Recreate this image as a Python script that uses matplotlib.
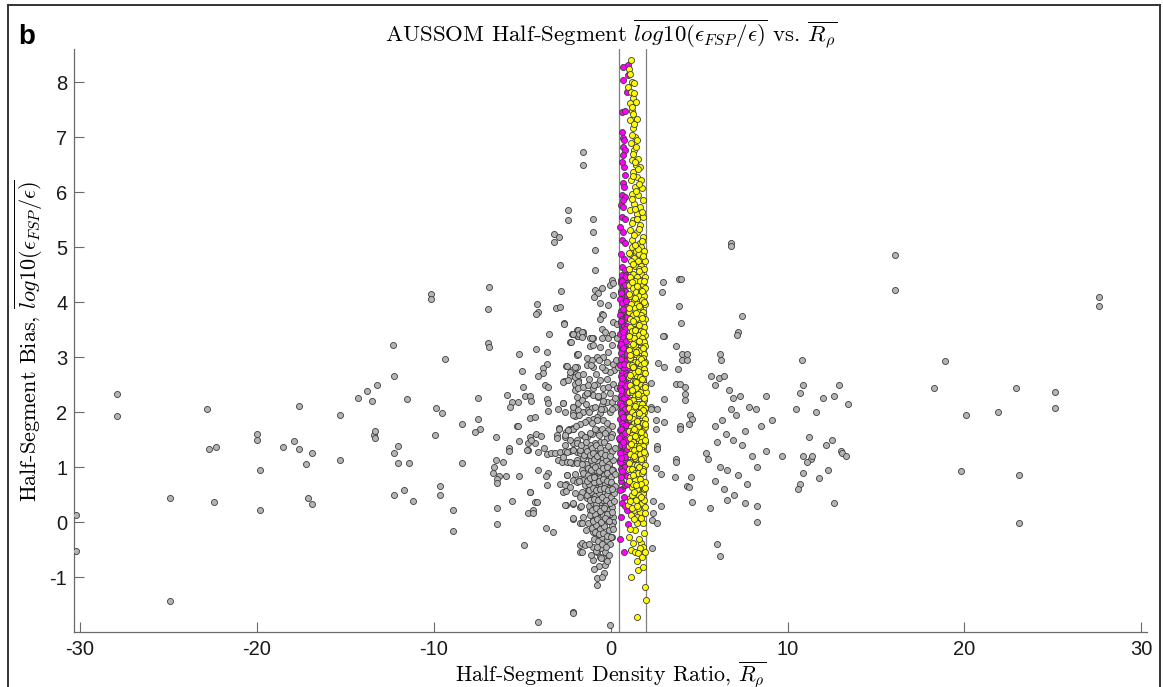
import matplotlib
matplotlib.use("Agg")
import matplotlib.pyplot as plt
from matplotlib.lines import Line2D

# ---------------- data ----------------
# gray: all half-segments outside the highlighted range
gray_x_outer = [-30.2, -30.2, -27.9, -27.9, -24.9, -24.9, -22.8, -22.7, -22.3, -22.4,
                -20.0, -20.0, -19.8, -19.8, -18.5, -17.9, -17.6, -17.6, -17.2, -17.1,
                -16.9, -16.9, -15.3, -15.3, -14.3, -13.8, -13.5, -13.4, -13.3, -13.3,
                -13.2, -12.3, -12.25, -12.25, -12.0, -12.0, -11.4, -12.25, -11.67, -11.53,
                -11.18, -10.16, -10.16, -9.89, -9.54, -9.91, -9.65, -9.65, -9.37, -8.9,
                -8.9, -8.39, -8.39, -7.52, -7.52, -7.39, -7.65, -6.88, -6.92, -6.92,
                -6.88, -5.86, -5.2, -5.0,
                16.1, 16.1, 18.3, 18.9, 19.8, 20.1, 21.9, 22.9, 23.1, 23.1,
                25.1, 25.1, 27.6, 27.6]
gray_y_outer = [0.13, -0.53, 2.33, 1.93, 0.43, -1.43, 2.05, 1.33, 1.37, 0.37,
                1.60, 1.50, 0.95, 0.22, 1.37, 1.47, 2.12, 1.33, 1.05, 0.43,
                0.32, 1.25, 1.95, 1.12, 2.25, 2.38, 2.20, 1.58, 1.65, 1.52,
                2.50, 3.22, 2.65, 1.25, 1.38, 1.07, 1.08, 0.50, 0.59, 2.23,
                0.38, 4.14, 4.05, 2.08, 1.98, 1.59, 0.66, 0.49, 2.97, 0.21,
                -0.16, 1.08, 1.79, 2.26, 1.87, 1.70, 1.64, 4.27, 3.87, 3.25,
                3.18, 2.32, 3.05, 2.75,
                4.85, 4.22, 2.43, 2.93, 0.93, 1.95, 2.00, 2.43, 0.85, -0.02,
                2.37, 2.07, 4.10, 3.93]

gray_x_left = [-2.41, -2.41, -3.22, -2.92, -3.22, -2.85, -2.83, -3.11, -2.85, -4.17,
               -4.13, -4.24, -2.64, -1.89, -1.90, -2.17, -3.50, -2.28, -4.22, -3.58,
               -1.89, -1.89, -3.58, -3.84, -3.84, -4.09, -2.53, -2.17, -1.90, -1.96,
               -2.28, -2.64, -1.83, -3.73, -3.56, -4.96, -1.96, -2.04, -4.85, -4.55,
               -4.51, -5.56, -5.24, -5.68, -3.62, -3.54, -2.71, -2.13, -1.87, -3.54,
               -2.96, -2.10, -1.80, -2.00, -4.56, -4.26, -5.30, -2.92, -2.35, -2.11,
               -5.24, -6.47, -5.77, -5.77, -5.17, -4.69, -4.69, -6.47, -6.11, -6.62,
               -6.64, -6.30, -5.90, -6.43, -6.43, -5.17, -6.41, -6.43, -5.60, -4.54,
               -4.26, -4.15, -4.69, -4.37, -4.37, -4.88, -3.67, -3.24, -4.11, -2.11,
               -2.92, -2.54, -2.34, -2.11, -3.05, -2.58, -1.92, -2.11, -2.58, -3.05,
               -4.24, -3.94, -4.26, -4.56, -4.52, -4.71, -4.09, -3.77, -3.62, -3.39,
               -3.15, -2.86, -2.58, -2.30, -2.11, -1.92, -1.73, -2.96, -2.77, -2.49,
               -2.21, -1.92, -4.09, -3.52, -3.67, -3.62, -2.86, -2.53, -2.71, -2.54,
               -2.53, -2.11, -2.11, -2.49, -2.11, -1.73, -4.56, -1.73, -1.73, -1.73,
               -1.73]
gray_y_left = [5.67, 5.49, 5.24, 5.19, 5.09, 4.68, 4.21, 3.89, 3.91, 3.96,
               3.82, 3.78, 3.62, 3.49, 3.38, 3.42, 3.42, 3.27, 3.14, 3.10,
               3.06, 3.03, 2.88, 2.81, 2.71, 2.65, 2.83, 2.76, 2.82, 2.69,
               2.65, 2.56, 2.58, 2.50, 2.45, 2.46, 2.43, 2.40, 2.29, 2.29,
               2.21, 2.19, 2.18, 2.10, 2.24, 2.16, 2.16, 2.10, 2.16, 2.02,
               2.05, 2.00, 1.98, 1.93, 1.90, 1.91, 1.75, 1.71, 1.69, 1.71,
               1.75, 1.55, 1.35, 1.30, 1.48, 1.43, 1.31, 1.12, 1.10, 1.01,
               0.89, 0.84, 0.84, 0.79, 0.71, 0.84, 0.25, -0.04, 0.39, 0.55,
               0.36, 0.36, 0.16, 0.22, 0.17, -0.41, -0.11, -0.18, -1.81, -1.64,
               1.70, 1.64, 1.68, 1.70, 1.58, 1.55, 1.49, 1.44, 1.40, 1.52,
               1.61, 1.57, 1.43, 1.55, 1.49, 1.31, 1.28, 1.34, 1.24, 1.25,
               1.26, 1.28, 1.30, 1.30, 1.31, 1.28, 1.25, 1.13, 1.10, 1.10,
               1.07, 1.13, 0.95, 0.90, 0.84, 0.68, 0.69, 0.69, 0.55, 0.57,
               0.31, 0.32, 0.06, 0.85, 0.76, 0.79, 0.55, 0.28, -0.02, -0.42,
               -0.54]

gray_x_core = [-1.57, -1.57, -1.02, -1.02, -0.89, -0.89, 0.05, -0.04, 0.15, -0.89,
               -0.70, -0.51, -0.93, 0.11, -0.17, -0.60, -2.64, -0.51, -0.42, -0.60,
               0.15, 0.34, -2.11, -1.83, -1.58, -1.83, -1.58, 0.05, -0.51, -1.17,
               -0.98, -0.13,
               -2.15, -1.79, -1.60, -1.64, -2.24, -1.17, -0.98, -1.06, -0.51, -0.32,
               0.05, 0.34, 0.09, -0.60, -1.87, -1.36, -1.08, -0.79, -0.42, -0.23,
               0.15, 0.19, 0.43, -0.04, -0.32, -0.51, -0.98, -1.36, -2.02, -2.49,
               -2.30, -2.02, -1.83, -2.68, -2.40, -2.02, -1.83, -1.55, -1.26, -0.98,
               -0.79, -0.60, -0.42, -0.13, 0.15, 0.34, -0.04, -0.42, -0.70, -0.98,
               -1.26, -1.45, -1.64, -1.92, -2.11, -2.68, -2.58, -2.11, -1.83, -1.55,
               -1.26, -1.08, -0.89, -0.51, -0.23, 0.05, 0.24, -0.04, -0.60, -0.79,
               -0.98, -1.26, -1.45, -1.74, -2.11, -2.40, -2.58, -2.30, -1.92, -1.64,
               -1.36, -1.08, -0.79, -0.51, -0.13, 0.05, -0.23, -0.60, -0.89, -1.17,
               -1.45, -1.74, -2.11, -2.49, -2.68, -2.30, -1.92, -1.55, -1.17, -0.89,
               -0.60, -0.32, -0.42, -0.70, -0.98, -1.26, -1.64, -2.02, -2.49, -2.58,
               -2.30, -1.92, -1.55, -1.17, -0.89, -0.60, -0.32, -0.04, 0.15, -0.13,
               -0.42, -0.70, -0.98, -1.26, -1.64, -2.02, -1.74, -1.36, -0.98, -0.70,
               -0.42, -0.04, 0.05, -0.23, -0.60, -0.98, -1.17, -0.79, -0.42, -0.04,
               -0.60, -0.98, -1.26, -0.89, -0.51, -0.23, 0.15, -0.70, -0.98, -0.42,
               -1.64, -2.11, -2.58, -2.11, -1.64, -1.45, -1.64, -0.98, -0.79, -0.60,
               -0.98, -0.42, -0.32, 0.05, -0.79, -2.11, -0.04,
               -1.50, -1.32, -1.05, -0.85, -0.62, -0.40, -0.15, 0.05,
               -1.40, -1.12, -0.92, -0.72, -0.50, -0.28, -0.08, 0.12,
               -1.55, -1.30, -1.05, -0.82, -0.58, -0.35, -0.18, 0.02,
               -1.45, -1.20, -0.95, -0.75, -0.52, -0.30, -0.10, 0.10,
               -1.35, -1.10, -0.88, -0.65, -0.45, -0.22, 0.00, 0.18,
               -1.25, -1.02, -0.80, -0.55, -0.32, -0.12, 0.08,
               -1.15, -0.90, -0.68, -0.45, -0.25, -0.05, 0.15,
               -1.05, -0.80, -0.58, -0.35, -0.12, 0.05,
               -0.95, -0.70, -0.48, -0.22, -0.02,
               -0.85, -0.55, -0.30, -0.65, -0.40, -0.20,
               -1.70, -1.45, -1.15, -0.90, -0.65, -0.30, 0.00,
               -1.80, -1.40, -0.70, -0.35, 0.25, -1.20, -0.80, -0.20, 0.30,
               -1.95, -1.70, -1.60, -1.80, -1.70, -1.55, -1.40, -1.25, -1.10, -0.95,
               -0.75, -0.50,
               -1.38, -1.18, -0.98, -0.78, -0.55, -0.32, -0.05, 0.22,
               -1.30, -1.10, -0.88, -0.65, -0.42, -0.20, 0.05, 0.25,
               -1.35, -1.15, -0.92, -0.68, -0.45, -0.22, 0.00, 0.22,
               -1.25, -1.02, -0.80, -0.58, -0.38, -0.15, 0.08,
               -1.15, -0.95, -0.72, -0.50, -0.28, -0.05, 0.20,
               -1.05, -0.85, -0.62, -0.40, -0.18, 0.05,
               -0.98, -0.75, -0.52, -0.30, -0.08, 0.12,
               -0.88, -0.65, -0.42, -0.20, 0.02,
               -0.75, -0.48, -0.25, -0.10, -0.55,
               -1.85, -1.55, -1.10, -0.65, -0.15, -1.35, -0.95, -0.45, -1.05, -0.75,
               -0.45, -0.20, 0.10, -1.25, -0.55, 0.10]
gray_y_core = [6.73, 6.50, 5.52, 5.28, 4.95, 4.59, 4.40, 4.31, 4.35, 4.22,
               4.16, 4.25, 4.10, 4.13, 3.95, 3.98, 3.61, 3.79, 3.76, 3.70,
               3.64, 3.61, 3.43, 3.49, 3.46, 3.39, 3.40, 3.43, 3.52, 3.34,
               3.34, 3.34,
               3.43, 3.43, 3.46, 3.37, 3.28, 3.21, 3.22, 3.34, 3.34, 3.46,
               3.42, 3.34, 3.22, 3.19, 3.05, 2.98, 2.95, 3.01, 3.01, 2.92,
               2.88, 2.76, 2.82, 2.73, 2.76, 2.82, 2.82, 2.85, 2.82, 2.84,
               2.73, 2.64, 2.67, 2.55, 2.58, 2.52, 2.43, 2.46, 2.49, 2.43,
               2.52, 2.58, 2.43, 2.46, 2.52, 2.43, 2.34, 2.31, 2.28, 2.31,
               2.34, 2.31, 2.22, 2.28, 2.10, 2.16, 2.01, 1.95, 2.04, 2.01,
               2.04, 2.07, 2.10, 2.13, 2.19, 2.19, 2.10, 2.01, 1.98, 1.91,
               1.87, 1.85, 1.82, 1.79, 1.70, 1.67, 1.58, 1.49, 1.43, 1.58,
               1.55, 1.61, 1.67, 1.70, 1.67, 1.61, 1.52, 1.46, 1.43, 1.40,
               1.37, 1.31, 1.31, 1.28, 1.19, 1.10, 1.07, 1.16, 1.19, 1.25,
               1.28, 1.31, 1.16, 1.10, 1.04, 0.98, 0.95, 0.88, 0.85, 0.67,
               0.64, 0.73, 0.76, 0.76, 0.82, 0.88, 0.95, 0.98, 0.95, 0.79,
               0.73, 0.67, 0.61, 0.58, 0.55, 0.52, 0.46, 0.43, 0.43, 0.49,
               0.52, 0.58, 0.37, 0.34, 0.31, 0.28, 0.22, 0.19, 0.19, 0.10,
               0.10, 0.04, -0.02, -0.09, -0.05, 0.01, 0.10, -0.21, -0.18, -0.21,
               -0.02, 0.07, 0.31, 0.34, -0.39, -0.42, -0.54, -0.45, -0.54, -0.63,
               -0.69, -0.66, -0.78, -0.27, -1.02, -1.65, -1.87,
               1.22, 1.30, 1.35, 1.40, 1.35, 1.45, 1.38, 1.30,
               1.05, 1.12, 1.15, 1.02, 1.08, 1.12, 1.05, 1.12,
               0.90, 0.85, 0.92, 0.95, 0.80, 0.85, 0.90, 0.82,
               0.68, 0.70, 0.72, 0.62, 0.66, 0.70, 0.62, 0.70,
               0.50, 0.55, 0.48, 0.52, 0.40, 0.50, 0.45, 0.52,
               0.30, 0.35, 0.32, 0.25, 0.30, 0.22, 0.28,
               0.12, 0.15, 0.08, 0.12, 0.05, 0.15, 0.00,
               -0.10, -0.05, -0.12, -0.08, -0.15, -0.08,
               -0.30, -0.35, -0.28, -0.32, -0.40,
               -0.52, -0.48, -0.55, -0.80, -0.92, -0.70,
               1.60, 1.55, 1.62, 1.70, 1.58, 1.62, 1.55,
               1.95, 2.15, 2.30, 2.05, 2.25, 2.60, 2.70, 2.60, 2.95,
               1.75, 1.40, 1.05, 0.75, 0.30, 0.10, -0.15, -0.40, -0.60, -0.85,
               -1.15, -1.00,
               1.45, 1.22, 1.25, 1.20, 1.25, 1.22, 1.20, 1.35,
               0.98, 0.95, 1.00, 0.92, 0.98, 1.00, 0.95, 0.88,
               0.75, 0.80, 0.82, 0.75, 0.78, 0.75, 0.72, 0.65,
               0.58, 0.62, 0.58, 0.60, 0.62, 0.58, 0.60,
               0.40, 0.42, 0.40, 0.45, 0.40, 0.35, 0.38,
               0.22, 0.25, 0.20, 0.25, 0.15, 0.18,
               0.02, 0.05, 0.00, 0.08, 0.02, -0.12,
               -0.18, -0.22, -0.20, -0.25, -0.28,
               -0.45, -0.40, -0.45, -0.60, -0.65,
               2.55, 2.70, 2.85, 2.95, 3.10, 2.35, 2.50, 2.20, 1.80, 1.85,
               1.85, 1.80, 1.75, 2.00, 2.05, 2.05]

gray_x_right = [2.94, 3.86, 2.92, 3.86, 3.97, 3.00, 3.99,
                2.98, 3.69, 4.03, 4.31, 4.03, 4.31, 2.67, 3.03, 3.79, 2.30,
                3.71, 3.90, 4.18, 4.18, 4.18, 3.00, 2.30, 2.30, 2.60, 2.58,
                2.56, 3.01, 3.94, 3.94, 4.46, 4.60, 4.44, 2.60, 2.60, 3.67,
                3.67, 2.56, 2.84, 3.63, 4.54, 4.29, 4.43, 4.60, 2.37, 2.84,
                2.37, 2.32, 2.60, 2.32,
                6.80, 6.80, 7.40, 7.20, 7.15, 6.20, 6.25, 5.70, 6.10, 6.40,
                5.90, 6.70, 6.90, 7.30, 7.80, 8.20, 6.80, 7.10, 6.30, 5.90,
                6.50, 7.60, 8.50, 8.80, 9.10, 6.00, 6.90, 7.40, 5.40, 5.50,
                8.00, 8.30, 9.70, 6.20, 6.60, 7.20, 7.70, 5.90, 6.40, 7.00,
                6.60, 8.30, 8.30, 7.60, 6.00, 6.20, 5.60, 8.80,
                10.8, 10.9, 10.7, 10.5, 11.6, 11.2, 10.9, 11.3, 11.1, 11.4,
                10.9, 10.7, 10.6, 12.0, 12.2, 12.6, 12.5, 12.6, 12.9, 13.0,
                13.1, 13.3, 13.4, 12.3, 11.8]
gray_y_right = [4.36, 4.43, 4.18, 3.93, 3.62, 3.39, 4.42,
                3.39, 3.20, 3.05, 3.05, 2.95, 2.95, 2.90, 2.82, 2.79, 2.53,
                2.52, 2.52, 2.45, 2.33, 2.22, 2.23, 2.10, 2.05, 2.05, 1.85,
                1.69, 1.82, 1.75, 1.69, 1.94, 1.87, 1.78, 1.38, 1.32, 1.14,
                1.10, 0.99, 0.87, 0.82, 0.82, 0.65, 0.63, 0.37, 0.39, 0.29,
                0.17, 0.04, -0.01, -0.47,
                5.08, 5.02, 3.75, 3.45, 3.40, 3.05, 2.95, 2.65, 2.62, 2.65,
                2.50, 2.40, 2.25, 2.30, 2.10, 2.05, 2.05, 1.95, 1.85, 1.75,
                1.60, 1.65, 1.75, 2.30, 1.85, 1.45, 1.50, 1.40, 1.25, 1.15,
                1.20, 1.00, 1.20, 1.00, 0.95, 0.85, 0.70, 0.75, 0.60, 0.50,
                0.40, 0.30, 0.00, 0.35, -0.40, -0.62, 0.25, 1.30,
                2.94, 2.50, 2.35, 2.05, 2.00, 1.55, 1.20, 1.15, 1.10, 1.20,
                0.90, 0.70, 0.60, 2.25, 1.40, 2.30, 1.50, 0.35, 2.50, 1.30,
                1.25, 1.20, 2.15, 0.95, 0.80]

# magenta: 0.5 <= R_rho < 1
mag_x = [0.71, 0.98, 0.71, 1.00, 0.90, 0.66, 0.81, 0.68, 0.77, 0.71,
         0.81, 0.71, 0.75, 0.81, 0.68, 0.75, 0.62, 0.81, 0.56, 0.71,
         0.62, 0.81, 0.53, 0.71, 0.62, 0.81, 0.56, 0.75, 0.62, 0.81,
         0.56, 0.71, 0.62, 0.81, 0.56, 0.71, 0.62, 0.81,
         0.62, 0.85, 0.74, 0.56, 0.90, 0.68, 0.80, 0.58, 0.70, 0.93,
         0.55, 0.78, 0.64, 0.88, 0.60, 0.74, 0.53, 0.95, 0.67, 0.84,
         0.58, 0.76, 0.92, 0.63, 0.55, 0.82, 0.70, 0.96, 0.60, 0.78,
         0.52, 0.88, 0.66, 0.57, 0.72, 0.93, 0.62, 0.83, 0.54, 0.75,
         0.97, 0.65, 0.87, 0.56, 0.80, 0.70, 0.60, 0.93, 0.52, 0.77,
         0.68, 0.88, 0.58, 0.82, 0.64, 0.53, 0.95, 0.73, 0.60, 0.86,
         0.68, 0.55, 0.78, 0.92, 0.63, 0.72, 0.57, 0.85, 0.66, 0.78,
         0.54, 0.62, 0.94, 0.71, 0.58, 0.86, 0.66, 0.54, 0.80, 0.70,
         0.60, 0.76, 0.57, 0.66, 0.62, 0.58, 0.55, 0.75,
         0.62, 0.53, 0.49, 0.90, 0.56, 0.81, 0.53, 0.53, 0.81, 0.56,
         0.81, 0.77, 0.90, 0.96, 0.90,
         0.88, 0.65, 0.82, 0.60, 0.86, 0.70, 0.92, 0.57, 0.82, 0.68,
         0.88, 0.56, 0.72, 0.95, 0.60, 0.78, 0.90, 0.63, 0.85, 0.57,
         0.75, 0.95, 0.62, 0.84, 0.56, 0.72, 0.88, 0.60, 0.80, 0.68,
         0.90, 0.60, 0.82, 0.66, 0.92, 0.55, 0.80, 0.70, 0.62, 0.66]
mag_y = [8.28, 8.31, 8.05, 8.13, 7.82, 7.46, 7.47, 6.98, 6.95, 6.82,
         6.76, 6.67, 6.46, 6.31, 6.16, 6.10, 5.95, 5.92, 5.76, 5.73,
         5.55, 5.52, 5.37, 5.28, 5.13, 5.07, 4.88, 4.79, 4.64, 4.58,
         4.40, 4.28, 4.10, 3.98, 3.79, 3.67, 3.55, 3.43,
         4.50, 4.50, 4.42, 4.35, 4.35, 4.27, 4.20, 4.20, 4.12, 4.12,
         4.05, 3.98, 3.98, 3.91, 3.84, 3.84, 3.77, 3.77, 3.70, 3.70,
         3.63, 3.56, 3.56, 3.49, 3.42, 3.42, 3.35, 3.35, 3.28, 3.21,
         3.21, 3.14, 3.14, 3.07, 3.00, 3.00, 2.93, 2.93, 2.86, 2.79,
         2.79, 2.72, 2.72, 2.65, 2.58, 2.58, 2.51, 2.51, 2.44, 2.44,
         2.37, 2.37, 2.30, 2.23, 2.23, 2.16, 2.16, 2.09, 2.02, 2.02,
         1.95, 1.88, 1.88, 1.81, 1.81, 1.74, 1.66, 1.66, 1.58, 1.50,
         1.50, 1.43, 1.43, 1.35, 1.28, 1.28, 1.20, 1.12, 1.12, 1.04,
         0.96, 0.88, 0.75, 0.60, 0.35, 0.10, -0.30, -0.55,
         1.98, 1.67, 1.52, 1.49, 1.40, 1.37, 1.25, 1.10, 1.19, 0.82,
         0.67, 0.46, 0.22, -0.04, 0.70,
         4.46, 4.38, 4.31, 4.16, 4.02, 3.88, 3.73, 3.66, 3.52, 3.45,
         3.30, 3.24, 3.17, 3.05, 2.97, 2.88, 2.68, 2.62, 2.47, 2.40,
         2.26, 2.33, 2.12, 2.06, 1.98, 1.91, 1.76, 1.70, 1.62, 1.46,
         1.32, 1.16, 1.00, 0.92, 0.84, 0.58, 0.30, 5.85, 6.55, 7.10]

# yellow: 1 <= R_rho <= 2
yel_x = [1.15, 1.05, 1.09, 1.19, 1.32, 1.00, 1.13, 1.24, 1.43, 1.09,
         1.19, 1.28, 1.47, 1.09, 1.24, 1.37, 1.47, 1.13, 1.32, 1.56,
         1.19, 1.43, 1.66, 1.28, 1.51, 1.13, 1.69, 1.37, 1.75, 1.19,
         1.56, 1.84, 1.32, 1.66, 1.09, 1.51, 1.84, 1.28, 1.66, 1.09,
         1.47, 1.84, 1.19, 1.66,
         1.22, 1.71, 1.45, 1.90, 1.08, 1.60, 1.33, 1.79, 1.15, 1.52,
         1.95, 1.38, 1.70, 1.05, 1.58, 1.88, 1.27, 1.74, 1.12, 1.48,
         1.93, 1.35, 1.64, 1.06, 1.82, 1.24, 1.55, 1.97, 1.41, 1.72,
         1.10, 1.60, 1.86, 1.30, 1.77, 1.16, 1.50, 1.94, 1.38, 1.68,
         1.04, 1.56, 1.85, 1.25, 1.73, 1.12, 1.46, 1.95, 1.33, 1.64,
         1.82, 1.07, 1.52, 1.90, 1.21, 1.70, 1.40, 1.58, 1.96, 1.09,
         1.30, 1.78, 1.48, 1.66, 1.88, 1.15, 1.36, 1.95, 1.03, 1.55,
         1.74, 1.26, 1.44, 1.90, 1.12, 1.62, 1.81, 1.35, 1.52, 1.97,
         1.06, 1.22, 1.70, 1.43, 1.60, 1.88, 1.14, 1.31, 1.77, 1.96,
         1.02, 1.50, 1.66, 1.24, 1.39, 1.85, 1.10, 1.58, 1.73, 1.94,
         1.30, 1.46, 1.81, 1.05, 1.20, 1.64, 1.98, 1.37, 1.53, 1.76,
         1.13, 1.27, 1.89, 1.45, 1.62, 1.80, 1.04, 1.33, 1.70, 1.95,
         1.19, 1.52, 1.86, 1.40, 1.61, 1.77, 1.08, 1.25, 1.92, 1.34,
         1.49, 1.68, 1.84, 1.15, 1.57, 1.97, 1.03, 1.28, 1.43, 1.75,
         1.20, 1.62, 1.88, 1.10, 1.37, 1.53, 1.80, 1.26, 1.69, 1.95,
         1.05, 1.45, 1.60, 1.85, 1.18, 1.32, 1.76, 1.08, 1.50, 1.66,
         1.93, 1.24, 1.40, 1.83, 1.12, 1.58, 1.72, 1.30, 1.47, 1.96,
         1.05, 1.20, 1.65, 1.84, 1.38, 1.55, 1.76,
         1.09, 1.37, 1.66, 1.94, 1.19, 1.56, 1.84, 1.09, 1.43, 1.75,
         1.00, 1.32, 1.66, 1.94, 1.13, 1.51, 1.84, 1.47, 1.37, 1.05,
         1.71, 1.84, 1.66, 1.15, 1.37, 1.56, 1.75, 1.56, 1.15, 1.94,
         1.98, 1.47, 1.28, 1.74, 1.47, 1.90, 1.22, 1.63, 1.86, 1.18, 1.55,
         1.55, 1.02, 1.85, 1.28, 1.62, 1.90, 1.20, 1.48, 1.78, 1.02,
         1.35, 1.90, 1.62, 1.05, 1.45, 1.78, 1.25, 1.58, 1.36, 1.85,
         1.03, 1.62, 1.26, 1.82, 1.45, 1.08, 1.70, 1.88, 1.28, 1.55,
         1.08, 1.75, 1.45, 1.95, 1.18, 1.56, 1.90, 1.05, 1.35, 1.82,
         1.62, 1.02, 1.48, 1.95, 1.30, 1.70, 1.40, 1.95, 1.15, 1.58,
         1.90, 1.32, 1.72, 1.02, 1.60, 1.85, 1.25, 1.05, 1.45, 1.95,
         1.30, 1.70, 1.10, 1.50, 1.95, 1.30, 1.70, 1.10, 1.90, 1.58,
         1.28, 1.95, 1.50, 1.85,
         1.40, 1.75, 1.30, 1.62, 1.20, 1.48, 1.75, 1.38, 1.22, 1.45,
         1.62, 1.28, 1.52, 1.35, 1.25, 1.45, 1.22, 1.33, 1.18, 1.30]
yel_y = [8.41, 8.25, 8.15, 8.01, 7.99, 7.91, 7.82, 7.72, 7.65, 7.62,
         7.48, 7.42, 7.34, 7.31, 7.16, 7.01, 6.95, 6.89, 6.76, 6.61,
         6.58, 6.49, 6.46, 6.37, 6.28, 6.22, 6.22, 6.10, 6.07, 5.97,
         5.95, 5.85, 5.79, 5.73, 5.67, 5.61, 5.55, 5.49, 5.40, 5.31,
         5.28, 5.19, 5.13, 5.07,
         5.00, 5.00, 4.93, 4.93, 4.87, 4.87, 4.80, 4.80, 4.74, 4.74,
         4.74, 4.66, 4.66, 4.60, 4.60, 4.60, 4.52, 4.52, 4.46, 4.46,
         4.46, 4.39, 4.39, 4.32, 4.32, 4.25, 4.25, 4.25, 4.18, 4.18,
         4.11, 4.11, 4.11, 4.04, 4.04, 3.97, 3.97, 3.97, 3.90, 3.90,
         3.83, 3.83, 3.83, 3.76, 3.76, 3.69, 3.69, 3.69, 3.62, 3.62,
         3.62, 3.55, 3.55, 3.55, 3.48, 3.48, 3.41, 3.41, 3.41, 3.34,
         3.34, 3.34, 3.27, 3.27, 3.27, 3.20, 3.20, 3.20, 3.13, 3.13,
         3.13, 3.06, 3.06, 3.06, 2.99, 2.99, 2.99, 2.92, 2.92, 2.92,
         2.85, 2.85, 2.85, 2.78, 2.78, 2.78, 2.71, 2.71, 2.71, 2.71,
         2.64, 2.64, 2.64, 2.57, 2.57, 2.57, 2.50, 2.50, 2.50, 2.50,
         2.43, 2.43, 2.43, 2.36, 2.36, 2.36, 2.36, 2.29, 2.29, 2.29,
         2.22, 2.22, 2.22, 2.15, 2.15, 2.15, 2.08, 2.08, 2.08, 2.08,
         2.01, 2.01, 2.01, 1.94, 1.94, 1.94, 1.87, 1.87, 1.87, 1.80,
         1.80, 1.80, 1.80, 1.73, 1.73, 1.73, 1.66, 1.66, 1.66, 1.66,
         1.59, 1.59, 1.59, 1.52, 1.52, 1.52, 1.52, 1.45, 1.45, 1.45,
         1.38, 1.38, 1.38, 1.38, 1.31, 1.31, 1.31, 1.24, 1.24, 1.24,
         1.24, 1.17, 1.17, 1.17, 1.10, 1.10, 1.10, 1.03, 1.03, 1.03,
         0.96, 0.96, 0.96, 0.96, 0.89, 0.89, 0.89,
         0.82, 0.76, 0.79, 0.73, 0.64, 0.58, 0.52, 0.43, 0.40, 0.34,
         0.31, 0.22, 0.19, 0.16, 0.13, 0.10, -0.02, -0.01, -0.15, -0.28,
         -0.39, -0.45, -0.48, -0.51, -0.54, -0.56, -0.63, -0.88, -1.00, -1.19,
         -1.41, -1.73, 0.70, 0.70, 0.60, 0.60, 0.50, 0.50, 0.40, 0.25, 0.25,
         4.97, 4.90, 4.84, 4.70, 4.56, 4.38, 4.36, 4.29, 4.21, 4.15,
         4.07, 4.00, 3.93, 3.90, 3.80, 3.72, 3.65, 3.58, 3.50, 3.45,
         3.38, 3.30, 3.24, 3.17, 3.10, 3.04, 2.96, 2.89, 2.82, 2.75,
         2.68, 2.61, 2.54, 2.46, 2.40, 2.33, 2.26, 2.19, 2.12, 2.04,
         1.98, 1.91, 1.84, 1.78, 1.70, 1.63, 1.56, 1.49, 1.42, 1.35,
         1.28, 1.21, 1.14, 1.07, 1.00, 0.93, 0.86, 0.75, 0.68, 0.62,
         0.55, 0.46, 0.38, 0.30, 0.28, 0.06, 0.08, -0.12, -0.20, -0.30,
         -0.38, -0.55, -0.70, -0.82,
         5.04, 5.12, 5.22, 5.34, 5.44, 5.52, 5.64, 5.70, 5.88, 6.02,
         6.15, 6.30, 6.42, 6.55, 6.70, 6.82, 7.05, 7.25, 7.55, 7.80]

xticks = [-30, -20, -10, 0, 10, 20, 30]
yticks = [-1, 0, 1, 2, 3, 4, 5, 6, 7, 8]
bounds = [0.5, 2.0]

# ---------------- plotting ----------------
plt.rcParams["mathtext.fontset"] = "cm"
plt.rcParams["axes.unicode_minus"] = False

fig = plt.figure(figsize=(11.63, 6.87), dpi=100)
ax = fig.add_axes([0.0639, 0.0805, 0.9223, 0.8477])

gx = gray_x_outer + gray_x_left + gray_x_core + gray_x_right
gy = gray_y_outer + gray_y_left + gray_y_core + gray_y_right

ms = 19
ax.scatter(gx, gy, s=ms, c="#b4b4b4", edgecolors="#3c3c3c", linewidths=0.6, zorder=3)
ax.scatter(mag_x, mag_y, s=ms, c="#ff00ff", edgecolors="#3c3c3c", linewidths=0.6, zorder=4)
ax.scatter(yel_x, yel_y, s=ms, c="#ffff00", edgecolors="#3c3c3c", linewidths=0.6, zorder=5)

for b in bounds:
    ax.axvline(b, color="#808080", lw=0.9, zorder=2)

ax.set_xlim(-30.32, 30.32)
ax.set_ylim(-1.995, 8.6)
ax.set_xticks(xticks)
ax.set_yticks(yticks)
ax.set_xticklabels([str(t) for t in xticks])
ax.set_yticklabels([str(t) for t in yticks])

for side in ["top", "right"]:
    ax.spines[side].set_visible(False)
for side in ["left", "bottom"]:
    ax.spines[side].set_color("#6a6a6a")
    ax.spines[side].set_linewidth(0.9)

ax.tick_params(axis="both", direction="in", length=7.5, width=0.8, color="#6a6a6a",
               labelsize=14.5, labelcolor="#1a1a1a")
ax.tick_params(axis="x", pad=6)
ax.tick_params(axis="y", pad=5)
for lab in ax.get_xticklabels() + ax.get_yticklabels():
    lab.set_fontfamily("Liberation Sans")

ax.set_title(r"AUSSOM Half-Segment $\overline{log10(\epsilon_{FSP}/\epsilon)}$ vs. $\overline{R_\rho}$",
             fontfamily="cmr10", fontsize=16.5, pad=6)
ax.set_xlabel(r"Half-Segment Density Ratio, $\overline{R_\rho}$",
              fontfamily="cmr10", fontsize=15.8, labelpad=0)
ax.set_ylabel(r"Half-Segment Bias, $\overline{log10(\epsilon_{FSP}/\epsilon)}$",
              fontfamily="cmr10", fontsize=16, labelpad=3)

fig.text(0.0155, 0.936, "b", fontfamily="Liberation Sans", fontweight="bold", fontsize=20)

# panel frame
fx0, fx1, fy1 = 8 / 1163, 1160 / 1163, 1 - 5 / 687
for xs, ys in [([fx0, fx0], [-0.01, fy1]), ([fx0, fx1], [fy1, fy1]), ([fx1, fx1], [fy1, -0.01])]:
    fig.add_artist(Line2D(xs, ys, transform=fig.transFigure, color="#333333", lw=1.4))

fig.savefig("out.png", dpi=100)
